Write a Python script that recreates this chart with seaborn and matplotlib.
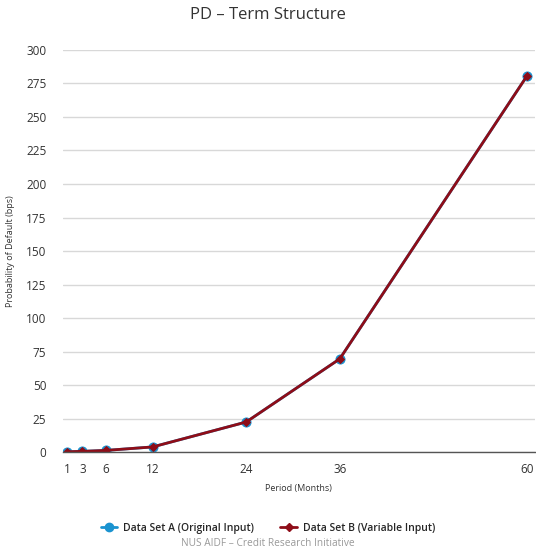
import pandas as pd
import matplotlib.pyplot as plt
import seaborn as sns
from matplotlib.lines import Line2D

periods = [1, 3, 6, 12, 24, 36, 60]
pd_a = [0.2, 0.5, 1.2, 3.8, 22.4, 69.5, 280.5]
pd_b = [0.2, 0.5, 1.2, 3.8, 22.4, 69.5, 280.5]
y_ticks = list(range(0, 301, 25))

color_a = '#1a93d0'
color_b = '#8e0d18'

sns.set_style('white')
plt.rcParams['font.family'] = ['Open Sans', 'DejaVu Sans']

df = pd.DataFrame({'period': periods, 'a': pd_a, 'b': pd_b})

fig = plt.figure(figsize=(5.36, 5.53), dpi=100)
ax = fig.add_axes([0.1175, 0.1826, 0.880, 0.727])

sns.lineplot(ax=ax, data=df, x='period', y='a', color=color_a, marker='o',
             markersize=6.5, markeredgecolor=color_a, linewidth=2)
sns.lineplot(ax=ax, data=df, x='period', y='b', color=color_b, marker='D',
             markersize=4.5, markeredgecolor=color_b, linewidth=2)

ax.set_xlim(0.5, 61)
ax.set_ylim(0, 300)
ax.set_yticks(y_ticks)
ax.set_xticks(periods)
ax.yaxis.grid(True, color='#d8d8d8', linewidth=1)
ax.set_axisbelow(True)
for s in ['top', 'right', 'left']:
    ax.spines[s].set_visible(False)
ax.spines['bottom'].set_color('#555555')
ax.spines['bottom'].set_linewidth(1)
ax.tick_params(axis='y', length=0, labelsize=8.5, labelcolor='#333333', pad=12)
ax.tick_params(axis='x', length=6, color='#ccd6eb', labelsize=8.5, labelcolor='#333333', pad=2)

ax.set_xlabel('Period (Months)', fontsize=6.5, color='#333333', labelpad=6)
ax.set_ylabel('Probability of Default (bps)', fontsize=6.5, color='#333333', labelpad=8)
fig.text(0.5, 0.972, 'PD \u2013 Term Structure', ha='center', va='center',
         fontsize=12, color='#333333')

handles = [
    Line2D([0], [0], color=color_a, marker='o', markersize=6, linewidth=2),
    Line2D([0], [0], color=color_b, marker='D', markersize=4.5, linewidth=2),
]
fig.legend(handles, ['Data Set A (Original Input)', 'Data Set B (Variable Input)'],
           loc='center', bbox_to_anchor=(0.5, 0.045), ncol=2, frameon=False,
           handlelength=1.6, columnspacing=2.5, handletextpad=0.6,
           prop={'weight': 'semibold', 'size': 7.5})
fig.text(0.5, 0.017, 'NUS AIDF \u2013 Credit Research Initiative', ha='center',
         va='center', fontsize=7.3, color='#999999')

fig.savefig('out.png', dpi=100)
